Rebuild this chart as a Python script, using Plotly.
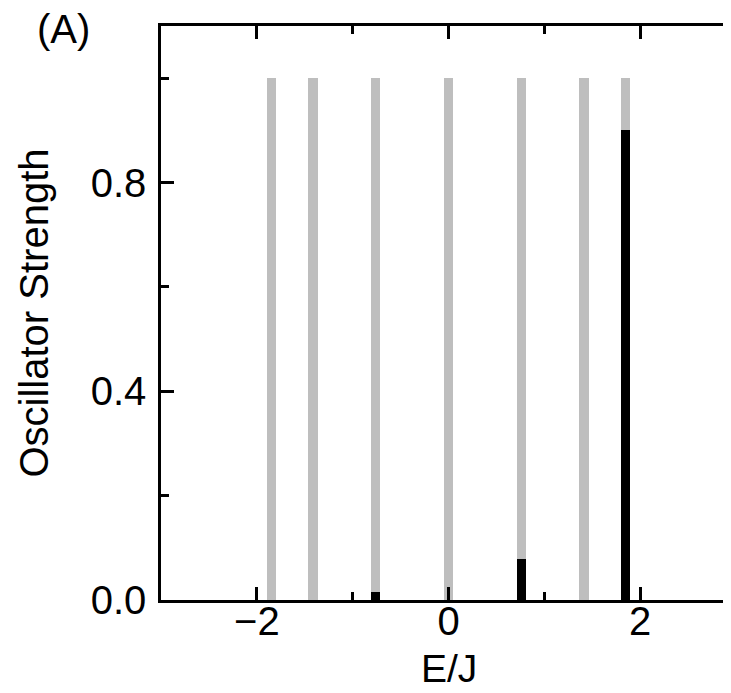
import plotly.graph_objects as go

# Data
energies = [-1.848, -1.414, -0.765, 0.0, 0.765, 1.414, 1.848]
gray_heights = [1.0, 1.0, 1.0, 1.0, 1.0, 1.0, 1.0]
black_heights = [0.0, 0.0, 0.015, 0.0, 0.078, 0.0, 0.90]

x_tick_vals = [-2, 0, 2]
x_tick_text = ["\u22122", "0", "2"]
x_minor_vals = [-1, 1]
y_tick_vals = [0.0, 0.4, 0.8]
y_tick_text = ["0.0", "0.4", "0.8"]
y_minor_vals = [0.2, 0.6, 1.0]

FONT = "Liberation Sans, Arial, Helvetica, sans-serif"
FS = 40
BAR_W = 0.097

fig = go.Figure()
fig.add_trace(go.Bar(x=energies, y=gray_heights, width=BAR_W,
                     marker=dict(color="#bebebe", line=dict(width=0)),
                     showlegend=False, hoverinfo="skip"))
fig.add_trace(go.Bar(x=energies, y=black_heights, width=BAR_W,
                     marker=dict(color="#000000", line=dict(width=0)),
                     showlegend=False, hoverinfo="skip"))

axis_common = dict(
    showline=True, linecolor="black", linewidth=2.5, mirror="ticks",
    ticks="inside", ticklen=13, tickwidth=2.5, tickcolor="black",
    showgrid=False, zeroline=False, automargin=False,
    tickfont=dict(family=FONT, size=FS, color="black"),
)

fig.update_layout(
    width=731, height=693,
    margin=dict(l=153, r=3, t=18, b=101),
    paper_bgcolor="white", plot_bgcolor="white",
    barmode="overlay", bargap=0,
    font=dict(family=FONT, size=FS, color="black"),
    xaxis=dict(
        range=[-3, 3], tickmode="array", tickvals=x_tick_vals, ticktext=x_tick_text,
        minor=dict(tickmode="array", tickvals=x_minor_vals, ticks="inside",
                   ticklen=8, tickwidth=2.5, tickcolor="black", showgrid=False),
        ticklabelstandoff=-16,
        **axis_common,
    ),
    yaxis=dict(
        range=[0, 1.1], tickmode="array", tickvals=y_tick_vals, ticktext=y_tick_text,
        minor=dict(tickmode="array", tickvals=y_minor_vals, ticks="inside",
                   ticklen=8, tickwidth=2.5, tickcolor="black", showgrid=False),
        title=dict(text="Oscillator Strength", font=dict(family=FONT, size=FS, color="black"), standoff=30),
        ticklabelstandoff=4,
        **axis_common,
    ),
    annotations=[
        dict(text="(A)", xref="paper", yref="paper", x=-0.170, y=0.995,
             xanchor="center", yanchor="middle", showarrow=False,
             font=dict(family=FONT, size=FS, color="black")),
        dict(text="E/J", xref="paper", yref="paper", x=0.5, y=-0.1600,
             xanchor="center", yanchor="bottom", showarrow=False,
             font=dict(family=FONT, size=39, color="black")),
    ],
)

fig.write_html("out.html")
